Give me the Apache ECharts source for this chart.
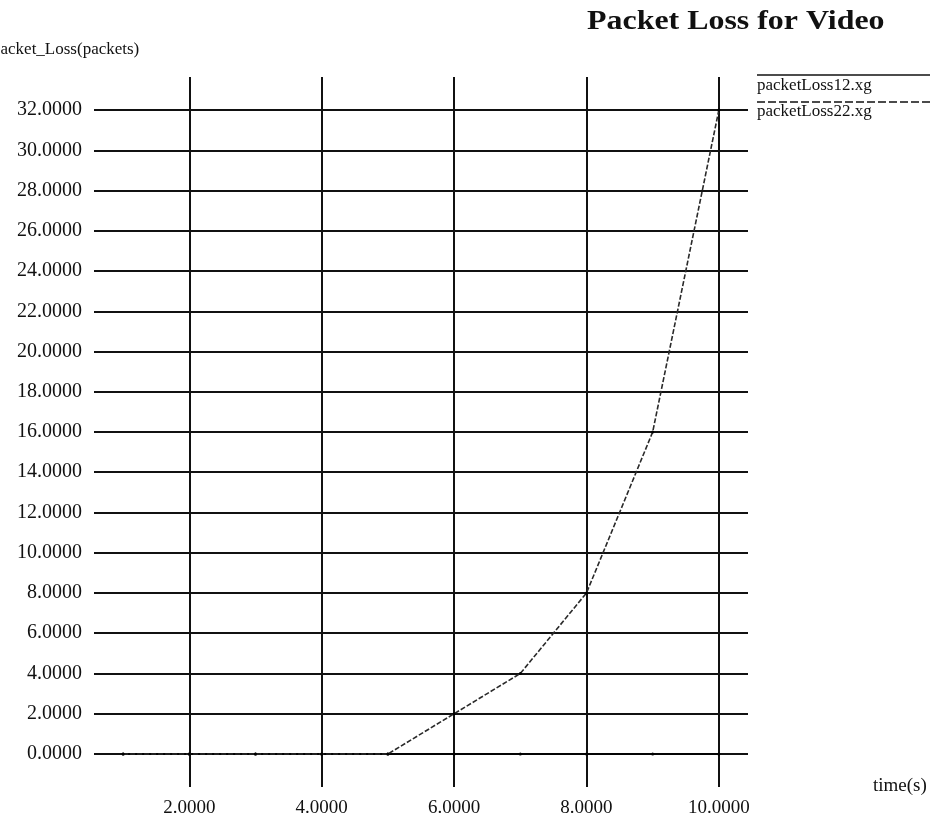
<!DOCTYPE html>
<html>
<head>
<meta charset="utf-8">
<script src="https://cdn.jsdelivr.net/npm/echarts@6/dist/echarts.min.js"></script>
<style>html,body{margin:0;padding:0;background:#fff;}#c{width:930px;height:818px;}</style>
</head>
<body>
<div id="c"></div>
<script>
const times = [1, 2, 3, 4, 5, 6, 7, 8, 9, 10];
const packetLoss12 = [0, 0, 0, 0, 0, 0, 0, 0, 0, 0];
const packetLoss22 = [0, 0, 0, 0, 0, 2, 4, 8, 16, 32];
const xTicks = [2, 4, 6, 8, 10];
const yTicks = [0, 2, 4, 6, 8, 10, 12, 14, 16, 18, 20, 22, 24, 26, 28, 30, 32];
const seriesNames = ['packetLoss12.xg', 'packetLoss22.xg'];

const FONT = '"Liberation Serif", "Times New Roman", serif';
const chart = echarts.init(document.getElementById('c'), null, {renderer: 'canvas'});
const pair = (xs, ys) => xs.map((x, i) => [x, ys[i]]);

chart.setOption({
  animation: false,
  backgroundColor: '#fff',
  grid: {left: 94, right: 182, top: 77, bottom: 31, containLabel: false},
  xAxis: {
    type: 'value', min: 0.56, max: 10.44,
    axisLine: {show: false},
    axisTick: {show: false, customValues: xTicks},
    axisLabel: {customValues: xTicks, formatter: v => v.toFixed(4), margin: 12,
      color: '#111', fontFamily: FONT, fontSize: 19},
    splitLine: {show: true, lineStyle: {color: '#111', width: 2}}
  },
  yAxis: {
    type: 'value', min: -1.64, max: 33.64,
    axisLine: {show: false},
    axisTick: {show: false, customValues: yTicks},
    axisLabel: {customValues: yTicks, formatter: v => v.toFixed(4), margin: 12,
      color: '#111', fontFamily: FONT, fontSize: 20},
    splitLine: {show: true, lineStyle: {color: '#111', width: 2}}
  },
  series: [
    {
      name: seriesNames[0], type: 'line', data: pair(times, packetLoss12),
      symbol: 'circle', symbolSize: 3, itemStyle: {color: '#000'},
      lineStyle: {color: '#000', width: 1.5}, z: 3
    },
    {
      name: seriesNames[1], type: 'line', data: pair(times, packetLoss22),
      symbol: 'circle', symbolSize: 3, itemStyle: {color: '#000'},
      lineStyle: {color: '#2a2a2a', width: 1.6, type: [5, 2]}, z: 4
    }
  ],
  graphic: [
    {type: 'text', x: 587, y: 8, scaleX: 1.14,
      style: {text: 'Packet Loss for Video', fill: '#111', font: 'bold 28px ' + FONT}},
    {type: 'text', left: -8, top: 41,
      style: {text: 'packet_Loss(packets)', fill: '#111', font: '17px ' + FONT}},
    {type: 'text', left: 873, top: 777,
      style: {text: 'time(s)', fill: '#111', font: '19px ' + FONT}},
    {type: 'line', shape: {x1: 757, y1: 75, x2: 930, y2: 75}, style: {stroke: '#111', lineWidth: 1.5}},
    {type: 'text', left: 757, top: 77,
      style: {text: seriesNames[0], fill: '#111', font: '17px ' + FONT}},
    {type: 'line', shape: {x1: 757, y1: 102, x2: 930, y2: 102}, style: {stroke: '#111', lineWidth: 1.5, lineDash: [8, 3]}},
    {type: 'text', left: 757, top: 103,
      style: {text: seriesNames[1], fill: '#111', font: '17px ' + FONT}}
  ]
});
</script>
</body>
</html>
